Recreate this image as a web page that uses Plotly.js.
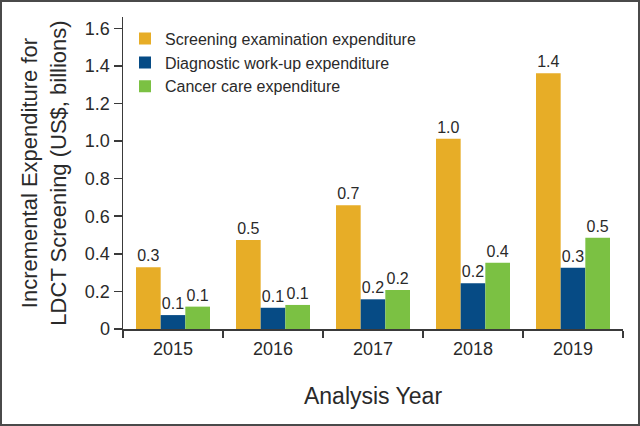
<!DOCTYPE html>
<html>
<head>
<meta charset="utf-8">
<script src="https://cdn.plot.ly/plotly-3.0.1.min.js"></script>
<style>
  html, body { margin: 0; padding: 0; background: #fff; }
  #wrap { position: relative; width: 640px; height: 426px; }
  #chart { width: 640px; height: 426px; }
  #frame { position: absolute; left: 0; top: 0; width: 640px; height: 426px; box-sizing: border-box; border: 2px solid #4a4a4a; pointer-events: none; }
</style>
</head>
<body>
<div id="wrap">
  <div id="chart"></div>
  <div id="frame"></div>
</div>
<script>
const years = ['2015', '2016', '2017', '2018', '2019'];
const screening = [0.328, 0.473, 0.659, 1.012, 1.361];
const diagnostic = [0.074, 0.113, 0.158, 0.243, 0.326];
const cancerCare = [0.119, 0.128, 0.207, 0.352, 0.485];
const seriesNames = ['Screening examination expenditure', 'Diagnostic work-up expenditure', 'Cancer care expenditure'];
const yTicks = [0, 0.2, 0.4, 0.6, 0.8, 1.0, 1.2, 1.4, 1.6];
const yTickText = ['0', '0.2', '0.4', '0.6', '0.8', '1.0', '1.2', '1.4', '1.6'];

const colors = ['#E7AD27', '#064B85', '#7BC143'];
const FONT = 'Liberation Sans, Arial, sans-serif';
const textFont = { family: FONT, size: 16, color: '#2a2a2a' };

function barTrace(vals, name, color) {
  return {
    type: 'bar', x: years, y: vals, name: name,
    marker: { color: color, line: { width: 0 } },
    texttemplate: '%{y:.1f}', textposition: 'outside', cliponaxis: false,
    textfont: textFont, hoverinfo: 'skip'
  };
}

const data = [
  barTrace(screening, seriesNames[0], colors[0]),
  barTrace(diagnostic, seriesNames[1], colors[1]),
  barTrace(cancerCare, seriesNames[2], colors[2])
];

const layout = {
  width: 640, height: 426,
  margin: { l: 123, r: 17, t: 17, b: 97 },
  paper_bgcolor: '#fff', plot_bgcolor: '#fff',
  barmode: 'group', bargap: 0.26, bargroupgap: 0,
  showlegend: true,
  legend: {
    x: 0.004, y: 0.985, xanchor: 'left', yanchor: 'top',
    font: { family: FONT, size: 16, color: '#2a2a2a' },
    bgcolor: 'rgba(0,0,0,0)', traceorder: 'normal'
  },
  xaxis: {
    type: 'category', tickson: 'boundaries', ticks: 'outside', ticklen: 7, tickwidth: 1.5, tickcolor: '#3a3a3a',
    showline: true, linecolor: '#3a3a3a', linewidth: 1.5, showgrid: false, zeroline: false,
    tickfont: { family: FONT, size: 18, color: '#2a2a2a' }, ticklabelstandoff: 3,
    title: { text: 'Analysis Year', standoff: 30, font: { family: FONT, size: 23, color: '#2a2a2a' } },
    automargin: false
  },
  yaxis: {
    range: [0, 1.66], tickmode: 'array', tickvals: yTicks, ticktext: yTickText,
    ticks: 'outside', ticklen: 8, tickwidth: 1.5, tickcolor: '#3a3a3a',
    showline: true, linecolor: '#3a3a3a', linewidth: 1.5, showgrid: false, zeroline: false,
    tickfont: { family: FONT, size: 18, color: '#2a2a2a' },
    title: { text: 'Incremental Expenditure for<br>LDCT Screening (US$, billions)', standoff: 12, font: { family: FONT, size: 22, color: '#2a2a2a' } },
    automargin: false
  }
};

Plotly.newPlot('chart', data, layout, { displayModeBar: false, staticPlot: true });
</script>
</body>
</html>
